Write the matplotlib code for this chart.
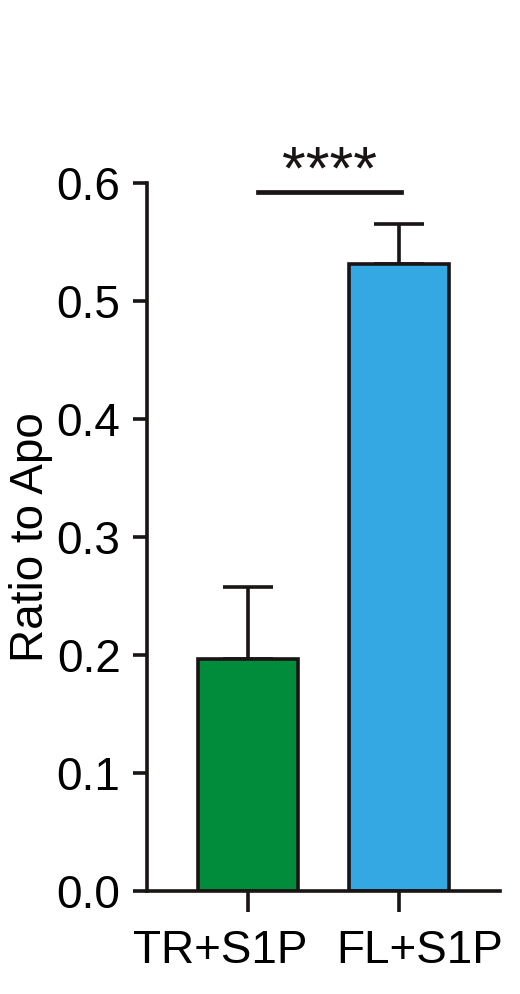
import matplotlib
matplotlib.use("Agg")
import matplotlib.pyplot as plt
import matplotlib.transforms as mtransforms

plt.rcParams["font.family"] = ["Liberation Sans", "DejaVu Sans"]

groups = ["TR+S1P", "FL+S1P"]
means = [0.197, 0.531]
errs = [0.061, 0.034]
colors = ["#008C3A", "#33A8E2"]
y_ticks = [0.0, 0.1, 0.2, 0.3, 0.4, 0.5, 0.6]
sig_label = "****"
sig_y = 0.592

EDGE = "#1a1414"
LW = 2.6
FS = 33

fig = plt.figure(figsize=(5.2, 9.94), dpi=100)
ax = fig.add_axes([0.2827, 0.1036, 0.9615 - 0.2827, 0.8159 - 0.1036])

x = list(range(len(groups)))
ax.bar(x, means, width=0.66, color=colors, edgecolor=EDGE, linewidth=LW, zorder=2)
ax.errorbar(x, means, yerr=[[0, 0], errs], fmt="none", ecolor=EDGE,
            elinewidth=LW, capsize=18, capthick=LW, zorder=1)

# significance bar
ax.plot([0.066, 1.013], [sig_y, sig_y], color=EDGE, lw=3.4, clip_on=False)
ax.text(0.54, sig_y - 0.008, sig_label, ha="center", va="bottom",
        fontsize=44, color=EDGE)

ax.set_xlim(-0.669, 0.669 + 1)
ax.set_ylim(0, 0.6)
ax.set_yticks(y_ticks)
ax.set_yticklabels([f"{v:.1f}" for v in y_ticks])
ax.set_xticks(x)
ax.set_xticklabels(groups)
ax.set_ylabel("Ratio to Apo", fontsize=FS, labelpad=3)

for side in ["top", "right"]:
    ax.spines[side].set_visible(False)
for side in ["left", "bottom"]:
    ax.spines[side].set_linewidth(LW)
    ax.spines[side].set_color(EDGE)

ax.tick_params(axis="y", length=10, width=LW, color=EDGE, labelsize=FS, pad=9)
ax.tick_params(axis="x", length=15, width=LW, color=EDGE, labelsize=FS, pad=12)

# labels in the reference sit off-centre from their ticks
for lab, dx in zip(ax.get_xticklabels(), [-28, 21]):
    lab.set_transform(lab.get_transform() +
                      mtransforms.ScaledTranslation(dx / 100, 0, fig.dpi_scale_trans))

fig.savefig("out.png", dpi=100)
